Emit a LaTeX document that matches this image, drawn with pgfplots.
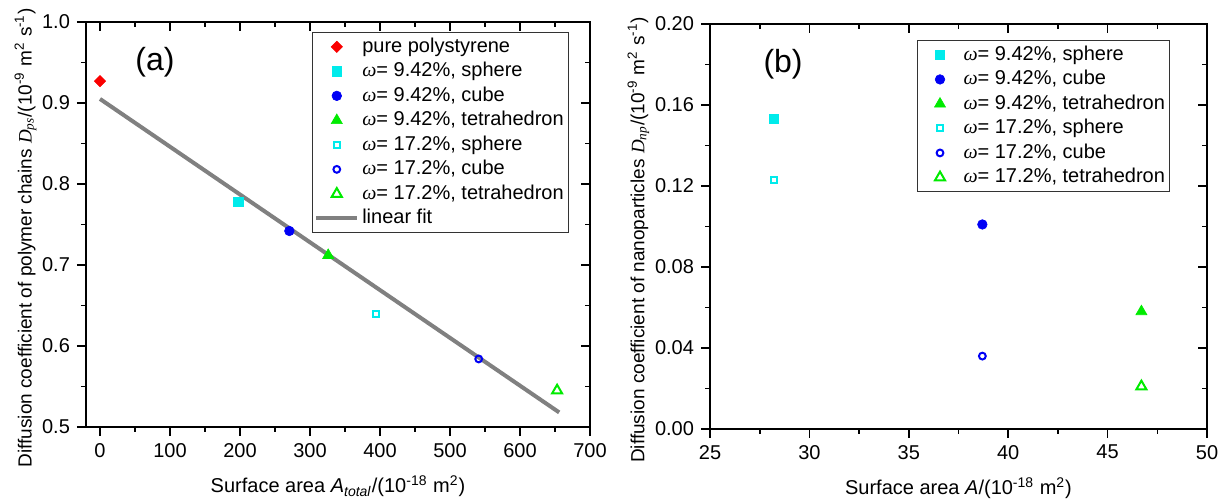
\documentclass[border=0pt]{standalone}
\usepackage{fontspec}
\setmainfont{Liberation Sans}
\newfontfamily\tnr{Liberation Serif}
\usepackage{pgfplots}
\pgfplotsset{compat=1.18}
\newcommand{\om}{{\tnr\itshape ω}}
\newcommand{\fs}{\fontsize{10}{12}\selectfont}
\definecolor{mycyan}{RGB}{0,235,235}
\definecolor{myblue}{RGB}{0,0,245}
\definecolor{mygreen}{RGB}{0,235,0}
\definecolor{myred}{RGB}{250,0,0}
\definecolor{fitgray}{RGB}{128,128,128}
\pgfplotsset{
  base/.style={scale only axis, height=202.5pt,
    axis line style={line width=1pt},
    major tick length=4.5pt, minor tick length=2.5pt,
    every tick/.style={black, line width=0.8pt},
    tick label style={font=\fs},
    label style={font=\fs},
    /pgf/number format/assume math mode=true,
    clip=false},
  frameaxis/.style={base, xtick pos=right, ytick pos=right, tick align=inside,
    xticklabels={}, yticklabels={}},
  mainaxis/.style={base, xtick pos=left, ytick pos=left, tick align=outside,
    ylabel style={font=\fontsize{9.5}{11}\selectfont, at={(ticklabel cs:0.467)}},
    ylabel shift=-4pt, xlabel shift=2.5pt},
  mk/.style={only marks, legend image code/.code={\path[draw=none,fill=none] (0pt,-2pt) rectangle (20.5pt,2pt);\draw[mark repeat=2,mark phase=2,##1] plot coordinates {(0pt,0pt)(10.25pt,0pt)(20.5pt,0pt)};}},
  ln/.style={legend image code/.code={\draw[##1] (0pt,0pt) -- (20.5pt,0pt);}},
  leg/.style={draw=black!80, line width=0.5pt, inner xsep=1pt, inner ysep=1pt,
    font=\fs, cells={anchor=west}, row sep=0pt,
    nodes={inner xsep=1.5pt, inner ysep=0pt, text height=8.75pt, text depth=3.5pt}},
  sqf/.style={mk, mark=square*, mark size=2.3pt, mark options={draw=mycyan, fill=mycyan, line width=0.3pt}},
  cif/.style={mk, mark=*, mark size=2.4pt, mark options={draw=myblue, fill=myblue, line width=0.3pt}},
  trf/.style={mk, mark=triangle*, mark size=3.2pt, mark options={draw=mygreen, fill=mygreen, line width=0.3pt}},
  sqo/.style={mk, mark=square, mark size=1.5pt, mark options={draw=mycyan, line width=1pt}},
  cio/.style={mk, mark=o, mark size=1.7pt, mark options={draw=myblue, line width=1pt}},
  tro/.style={mk, mark=triangle, mark size=2.9pt, mark options={draw=mygreen, line width=1pt}},
}
\begin{document}
\begin{tikzpicture}
\path[use as bounding box] (-43pt,-37pt) rectangle (571.5pt,213.5pt);
% ---------------- panel (a)
\begin{axis}[frameaxis, width=252pt, at={(0pt,0pt)}, anchor=south west,
  xmin=-20, xmax=700, ymin=0.5, ymax=1.0,
  xtick={0,100,...,700}, ytick={0.5,0.6,...,1.0}, minor x tick num=1, minor y tick num=1]
\end{axis}
\begin{axis}[mainaxis, width=252pt, at={(0pt,0pt)}, anchor=south west,
  xmin=-20, xmax=700, ymin=0.5, ymax=1.0,
  xtick={0,100,...,700}, ytick={0.5,0.6,...,1.0}, minor x tick num=1, minor y tick num=1,
  yticklabel style={/pgf/number format/.cd, fixed, fixed zerofill, precision=1},
  xlabel={Surface area \textit{A}\textsubscript{\textit{total}}/(10\textsuperscript{-18} m\textsuperscript{2})},
  ylabel={Diffusion coefficient of polymer chains {\tnr\itshape D}\textsubscript{\tnr\itshape ps}/(10\textsuperscript{-9} m\textsuperscript{2} s\textsuperscript{-1})},
  legend style={leg, at={(0.448,0.975)}, anchor=north west}]
\addplot[mk, mark=square*, mark size=2pt, mark options={rotate=45, draw=myred, fill=myred, line width=0.3pt}] coordinates {(0,0.927)};
\addlegendentry{pure polystyrene}
\addplot[sqf] coordinates {(197.6,0.778)};
\addlegendentry{\om= 9.42\%, sphere}
\addplot[cif] coordinates {(270.5,0.742)};
\addlegendentry{\om= 9.42\%, cube}
\addplot[trf] coordinates {(326,0.712)};
\addlegendentry{\om= 9.42\%, tetrahedron}
\addplot[sqo] coordinates {(395,0.640)};
\addlegendentry{\om= 17.2\%, sphere}
\addplot[cio] coordinates {(541,0.584)};
\addlegendentry{\om= 17.2\%, cube}
\addplot[tro] coordinates {(653,0.545)};
\addlegendentry{\om= 17.2\%, tetrahedron}
\addplot[ln, fitgray, line width=2pt] coordinates {(0,0.905) (656,0.518)};
\addlegendentry{linear fit}
\node[font=\fontsize{16}{18}\selectfont] at (rel axis cs:0.137,0.9) {(a)};
\end{axis}
% ---------------- panel (b)
\begin{axis}[frameaxis, width=248.5pt, at={(312pt,-1pt)}, anchor=south west,
  xmin=25, xmax=50, ymin=0, ymax=0.2,
  xtick={25,30,...,50}, ytick={0,0.04,...,0.2}, minor x tick num=1, minor y tick num=1]
\end{axis}
\begin{axis}[mainaxis, width=248.5pt, at={(312pt,-1pt)}, anchor=south west,
  xmin=25, xmax=50, ymin=0, ymax=0.2,
  xtick={25,30,...,50}, ytick={0,0.04,...,0.2}, minor x tick num=1, minor y tick num=1,
  yticklabel style={/pgf/number format/.cd, fixed, fixed zerofill, precision=2},
  xlabel={Surface area \textit{A}/(10\textsuperscript{-18} m\textsuperscript{2})},
  ylabel={Diffusion coefficient of nanoparticles {\tnr\itshape D}\textsubscript{\tnr\itshape np}/(10\textsuperscript{-9} m\textsuperscript{2} s\textsuperscript{-1})},
  legend style={leg, at={(0.4165,0.96)}, anchor=north west}]
\addplot[sqf] coordinates {(28.2,0.153)};
\addlegendentry{\om= 9.42\%, sphere}
\addplot[cif] coordinates {(38.7,0.101)};
\addlegendentry{\om= 9.42\%, cube}
\addplot[trf] coordinates {(46.7,0.058)};
\addlegendentry{\om= 9.42\%, tetrahedron}
\addplot[sqo] coordinates {(28.2,0.123)};
\addlegendentry{\om= 17.2\%, sphere}
\addplot[cio] coordinates {(38.7,0.036)};
\addlegendentry{\om= 17.2\%, cube}
\addplot[tro] coordinates {(46.7,0.021)};
\addlegendentry{\om= 17.2\%, tetrahedron}
\node[font=\fontsize{16}{18}\selectfont] at (rel axis cs:0.147,0.9) {(b)};
\end{axis}
\end{tikzpicture}
\end{document}
